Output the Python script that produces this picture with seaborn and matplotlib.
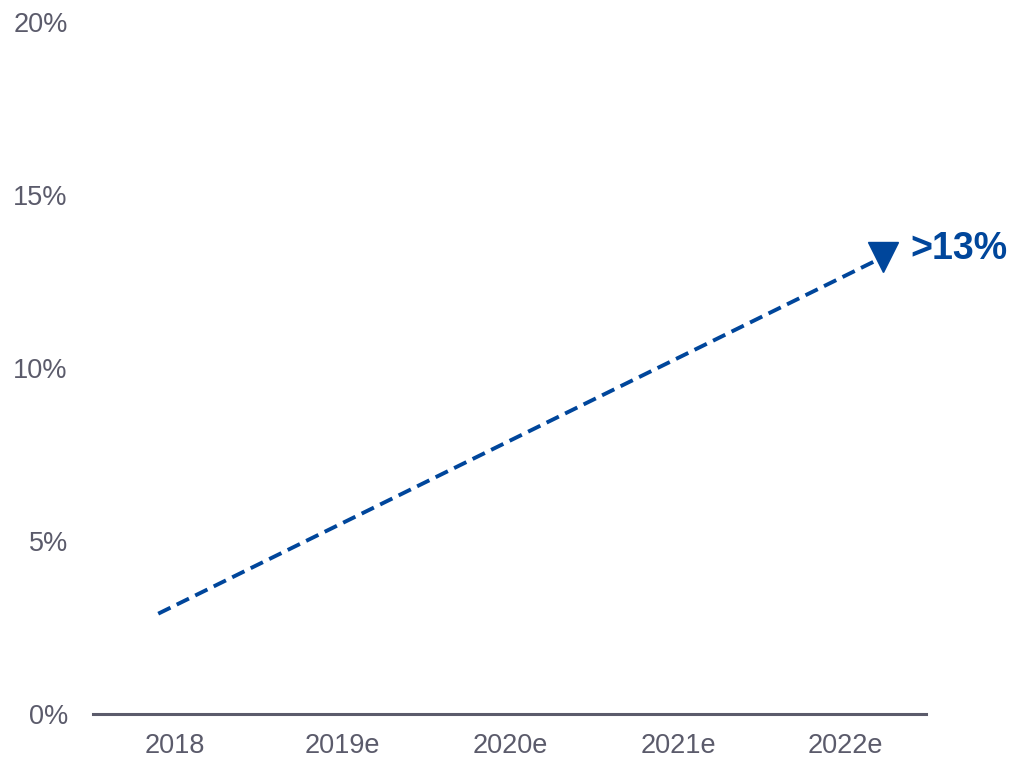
import matplotlib
matplotlib.use("Agg")
import matplotlib.pyplot as plt
import seaborn as sns
import pandas as pd

categories = ["2018", "2019e", "2020e", "2021e", "2022e"]
trend_pos = [-0.10, 4.22]
trend_values = [2.9, 13.2]
annotation = ">13%"
yticks = [0, 5, 10, 15, 20]

sns.set_theme(style="white")
plt.rcParams['font.family'] = ['Liberation Sans', 'DejaVu Sans']

fig = plt.figure(figsize=(10.09, 7.58), dpi=100)
ax = fig.add_axes([0.092, 0.058, 0.826, 0.913])

blue = "#00469b"
gray = "#5b5b6b"

df = pd.DataFrame({"x": trend_pos, "y": trend_values})
sns.lineplot(data=df, x="x", y="y", ax=ax, color=blue, linewidth=2.8,
             linestyle=(0, (3.5, 1.8)))
ax.plot(trend_pos[-1], trend_values[-1], marker="v", markersize=22,
        color=blue, linestyle="none")
ax.annotate(annotation, (trend_pos[-1], trend_values[-1]), xytext=(20, 6),
            textcoords="offset points", ha="left", va="center",
            fontsize=27, fontweight="bold", color=blue)

ax.set_xlim(-0.49, 4.48)
ax.set_ylim(0, 20)
ax.set_xticks(range(len(categories)))
ax.set_xticklabels(categories)
ax.set_yticks(yticks)
ax.set_yticklabels([f"{v}%" for v in yticks])
ax.set_xlabel("")
ax.set_ylabel("")
ax.tick_params(axis="both", length=0, labelsize=19.5, colors=gray)
ax.tick_params(axis="y", pad=18)
ax.tick_params(axis="x", pad=14)
for s in ["top", "right", "left"]:
    ax.spines[s].set_visible(False)
ax.spines["bottom"].set_color(gray)
ax.spines["bottom"].set_linewidth(2.2)
ax.grid(False)

fig.savefig("out.png", dpi=100)
